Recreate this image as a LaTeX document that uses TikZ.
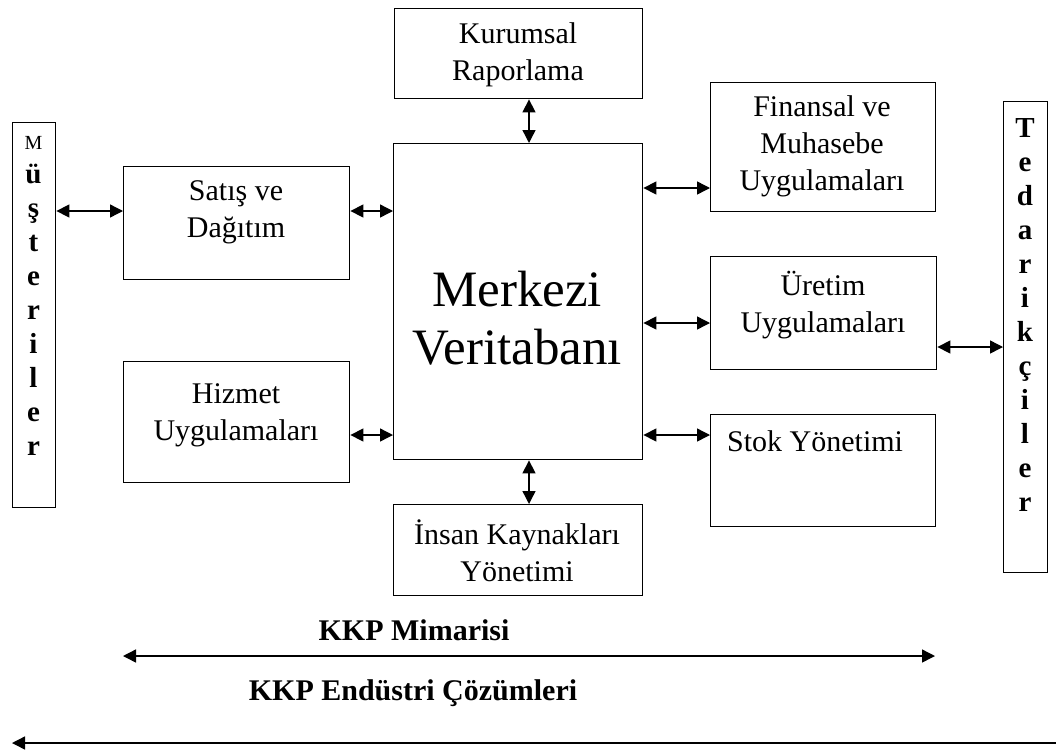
\documentclass[tikz,border=0pt]{standalone}
\usepackage{fontspec}
\setmainfont{Liberation Serif}
\usetikzlibrary{arrows.meta}
\begin{document}
\begin{tikzpicture}[x=1pt,y=-1pt,
  box/.style={draw,line width=1.4pt,anchor=north west,inner sep=0pt},
  txt/.style={align=center,inner sep=0pt,font=\fontsize{30}{37}\selectfont},
  big/.style={align=center,inner sep=0pt,font=\fontsize{51}{58}\selectfont},
  head/.style={align=center,inner sep=0pt,font=\fontsize{30}{37}\selectfont\bfseries},
  column/.style={align=center,inner sep=0pt,font=\fontsize{29}{34}\selectfont\bfseries},
  conn/.style={line width=1.4pt,{Triangle[length=13pt,width=13pt]}-{Triangle[length=13pt,width=13pt]}},
  oneway/.style={line width=1.4pt,{Triangle[length=13pt,width=13pt]}-}]
\useasboundingbox (0,0) rectangle (1056,755);

% side columns
\node[box,minimum width=43pt,minimum height=385pt] (mus) at (12,122) {};
\node[box,minimum width=44pt,minimum height=471pt] (ted) at (1003,101) {};

% central database and its modules
\node[box,minimum width=249pt,minimum height=316pt] (merk) at (393,143) {};
\node[box,minimum width=248pt,minimum height=90pt]  (kurum) at (394,8) {};
\node[box,minimum width=249pt,minimum height=91pt]  (insan) at (393,504) {};
\node[box,minimum width=226pt,minimum height=113pt] (satis) at (123,166) {};
\node[box,minimum width=226pt,minimum height=121pt] (hizmet) at (123,361) {};
\node[box,minimum width=225pt,minimum height=129pt] (fin) at (710,82) {};
\node[box,minimum width=226pt,minimum height=113pt] (uret) at (710,256) {};
\node[box,minimum width=225pt,minimum height=112pt] (stok) at (710,414) {};

% labels
\node[column] (musT) at (33.5,296) {{\normalfont\fontsize{20}{34}\selectfont M}\\ü\\ş\\t\\e\\r\\i\\l\\e\\r};
\node[column] (tedT) at (1025,315) {T\\e\\d\\a\\r\\i\\k\\ç\\i\\l\\e\\r};
\node[big] (merkT) at (517,318) {Merkezi\\Veritabanı};
\node[txt] (kurumT) at (518,55) {Kurumsal\\Raporlama};
\node[txt] (insanT) at (517,551) {İnsan Kaynakları\\Yönetimi};
\node[txt] (satisT) at (236,212) {Satış ve\\Dağıtım};
\node[txt] (hizmetT) at (236,415) {Hizmet\\Uygulamaları};
\node[txt] (finT) at (822,146) {Finansal ve\\Muhasebe\\Uygulamaları};
\node[txt] (uretT) at (823,305) {Üretim\\Uygulamaları};
\node[txt,anchor=west] (stokT) at (727,441) {Stok Yönetimi};
\node[head] (mimT) at (414,630) {KKP Mimarisi};
\node[head] (endT) at (413,693) {KKP Endüstri Çözümleri};

% connector levels
\coordinate (ySat) at (0,211);
\coordinate (yHiz) at (0,435);
\coordinate (yFin) at (0,188);
\coordinate (yUre) at (0,323);
\coordinate (yTed) at (0,347);
\coordinate (xMid) at (529,0);

\draw[conn] (mus.east |- ySat) -- (satis.west |- ySat);
\draw[conn] (satis.east |- ySat) -- (merk.west |- ySat);
\draw[conn] (hizmet.east |- yHiz) -- (merk.west |- yHiz);
\draw[conn] (kurum.south -| xMid) -- (merk.north -| xMid);
\draw[conn] (merk.south -| xMid) -- (insan.north -| xMid);
\draw[conn] (merk.east |- yFin) -- (fin.west |- yFin);
\draw[conn] (merk.east |- yUre) -- (uret.west |- yUre);
\draw[conn] (merk.east |- yHiz) -- (stok.west |- yHiz);
\draw[conn] (uret.east |- yTed) -- (ted.west |- yTed);

% scope arrows
\coordinate (a1L) at (123,656);
\coordinate (a1R) at (935,656);
\coordinate (a2L) at (12,743);
\coordinate (a2R) at (1056,743);
\draw[conn] (a1L) -- (a1R);
\draw[oneway] (a2L) -- (a2R);
\end{tikzpicture}
\end{document}
